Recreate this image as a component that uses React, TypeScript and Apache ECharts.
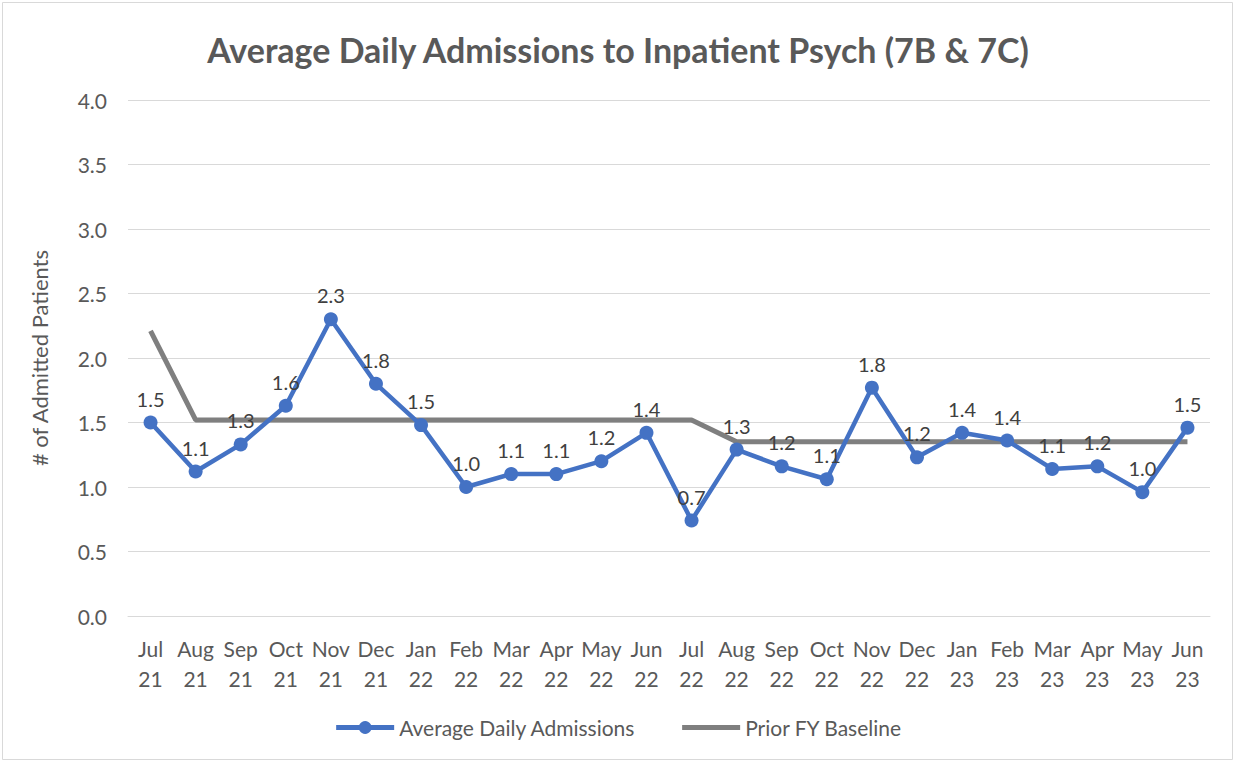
import React, { useEffect, useRef } from "react";
import * as echarts from "echarts";

const categories = [
  "Jul\n21", "Aug\n21", "Sep\n21", "Oct\n21", "Nov\n21", "Dec\n21",
  "Jan\n22", "Feb\n22", "Mar\n22", "Apr\n22", "May\n22", "Jun\n22",
  "Jul\n22", "Aug\n22", "Sep\n22", "Oct\n22", "Nov\n22", "Dec\n22",
  "Jan\n23", "Feb\n23", "Mar\n23", "Apr\n23", "May\n23", "Jun\n23",
];

const admissions = [
  1.5, 1.12, 1.33, 1.63, 2.3, 1.8,
  1.48, 1.0, 1.1, 1.1, 1.2, 1.42,
  0.74, 1.29, 1.16, 1.06, 1.77, 1.23,
  1.42, 1.36, 1.14, 1.16, 0.96, 1.46,
];

const baseline = [
  2.21, 1.52, 1.52, 1.52, 1.52, 1.52,
  1.52, 1.52, 1.52, 1.52, 1.52, 1.52,
  1.52, 1.35, 1.35, 1.35, 1.35, 1.35,
  1.35, 1.35, 1.35, 1.35, 1.35, 1.35,
];

const FONT = "Lato, 'Open Sans', sans-serif";

export default function App() {
  const ref = useRef<HTMLDivElement>(null);
  useEffect(() => {
    if (!ref.current) return;
    const chart = echarts.init(ref.current, null, { renderer: "svg" });
    chart.setOption({
      animation: false,
      backgroundColor: "#ffffff",
      textStyle: { fontFamily: FONT },
      title: {
        text: "Average Daily Admissions to Inpatient Psych (7B & 7C)",
        left: "center",
        top: 27,
        textStyle: { fontSize: 34, fontWeight: "bold", color: "#595959", fontFamily: FONT },
      },
      graphic: [
        {
          type: "rect",
          shape: { x: 2.5, y: 2.5, width: 1230, height: 757 },
          style: { fill: "none", stroke: "#d9d9d9", lineWidth: 1 },
          silent: true,
        },
      ],
      grid: { left: 128, right: 26, top: 100, bottom: 147, containLabel: false },
      legend: {
        bottom: 20,
        left: "center",
        itemWidth: 58,
        itemHeight: 16,
        itemGap: 44,
        textStyle: { fontSize: 21, color: "#595959", fontFamily: FONT },
        data: [
          { name: "Average Daily Admissions", lineStyle: { width: 5 } },
          {
            name: "Prior FY Baseline",
            lineStyle: { width: 5 },
            itemStyle: { color: "rgba(0,0,0,0)", borderWidth: 0 },
          },
        ],
      },
      xAxis: {
        type: "category",
        data: categories,
        boundaryGap: true,
        axisLine: { show: true, lineStyle: { color: "#d9d9d9", width: 1 } },
        axisTick: { show: false },
        axisLabel: {
          color: "#595959",
          fontSize: 21,
          lineHeight: 30,
          margin: 17,
          interval: 0,
          fontFamily: FONT,
        },
      },
      yAxis: {
        type: "value",
        min: 0,
        max: 4,
        interval: 0.5,
        name: "# of Admitted Patients",
        nameLocation: "middle",
        nameGap: 78,
        nameTextStyle: { fontSize: 22, color: "#595959", fontFamily: FONT },
        axisLine: { show: false },
        axisTick: { show: false },
        splitLine: { lineStyle: { color: "#d9d9d9", width: 1 } },
        axisLabel: {
          color: "#595959",
          fontSize: 21,
          margin: 21,
          fontFamily: FONT,
          formatter: (v: number) => v.toFixed(1),
        },
      },
      series: [
        {
          name: "Prior FY Baseline",
          type: "line",
          data: baseline,
          symbol: "none",
          lineStyle: { color: "#7f7f7f", width: 5 },
          itemStyle: { color: "#7f7f7f" },
          z: 2,
        },
        {
          name: "Average Daily Admissions",
          type: "line",
          data: admissions,
          symbol: "circle",
          symbolSize: 14,
          lineStyle: { color: "#4472c4", width: 4.5 },
          itemStyle: { color: "#4472c4" },
          label: {
            show: true,
            position: "top",
            distance: 7,
            fontSize: 20,
            color: "#404040",
            fontFamily: FONT,
            formatter: (p: any) => Number(p.value).toFixed(1),
          },
          z: 3,
        },
      ],
    });
    return () => chart.dispose();
  }, []);
  return (
    <div
      ref={ref}
      style={{ position: "fixed", left: 0, top: 0, width: 1236, height: 763 }}
    />
  );
}
